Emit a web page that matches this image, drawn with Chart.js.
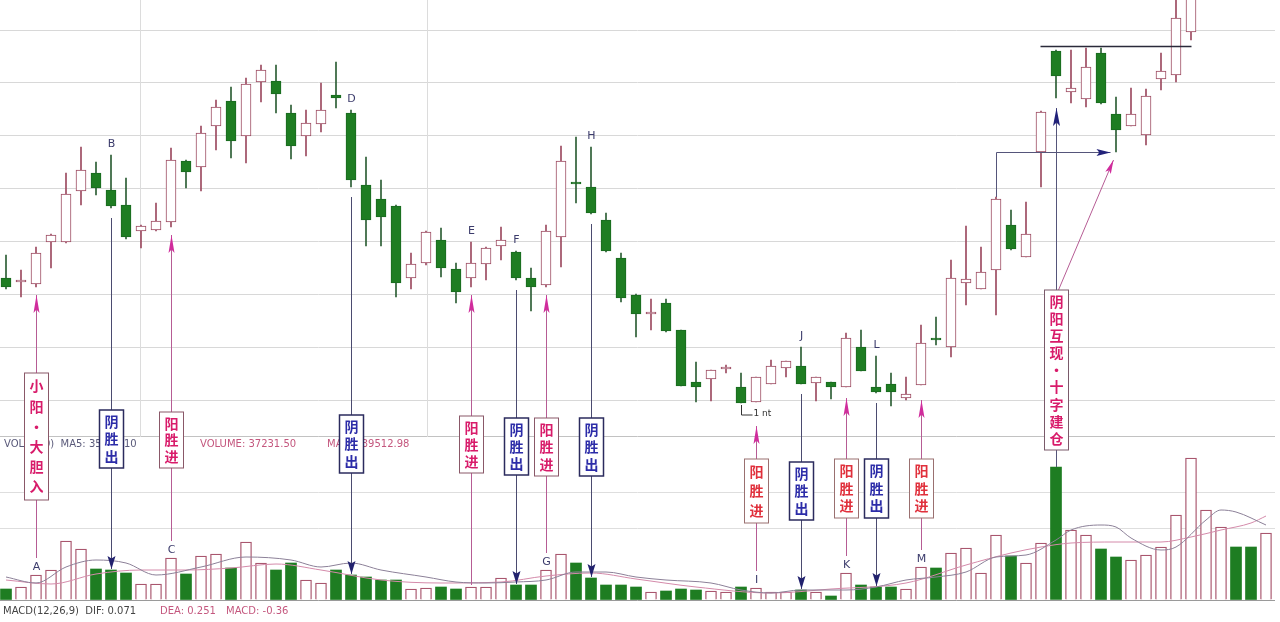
<!DOCTYPE html>
<html>
<head>
<meta charset="utf-8">
<script src="https://cdn.jsdelivr.net/npm/chart.js@4.4.1/dist/chart.umd.min.js"></script>
<style>
  html, body { margin: 0; padding: 0; background: #fff; }
  #wrap { width: 1280px; height: 622px; position: relative; }
</style>
</head>
<body>
<div id="wrap"><canvas id="kline"></canvas></div>
<script>
// daily candles, left to right (prices in yuan)
const opens = [7.22,7.18,7.16,7.58,7.58,8.09,8.27,8.10,7.95,7.69, 7.70,7.78,8.39,8.33,8.74,8.99,8.64,9.18,9.19,8.87,
  8.64,8.76,9.05,8.87,8.15,8.01,7.94,7.22,7.37,7.60, 7.31,7.22,7.36,7.54,7.48,7.22,7.15,7.63,8.18,8.13,
  7.80,7.42,7.05,6.86,6.97,6.70,6.18,6.21,6.31,6.13, 5.98,6.16,6.32,6.34,6.17,6.18,6.13,6.53,6.13,6.16,
  6.02,6.15,6.61,6.53,7.17,7.11,7.30,7.75,7.43,8.48, 9.49,9.08,9.01,9.47,8.86,8.74,8.65,9.21,9.25,9.68,
  10.20,10.45,10.75,10.50,10.30];
const highs = [7.45,7.30,7.53,7.66,8.27,8.53,8.38,8.45,8.22,7.75, 7.97,8.52,8.40,8.74,9.00,9.13,9.22,9.35,9.35,8.95,
  8.90,9.17,9.38,8.90,8.43,8.20,7.95,7.47,7.69,7.72, 7.37,7.58,7.53,7.73,7.49,7.32,7.75,8.54,8.63,8.53,
  7.87,7.47,7.06,7.01,7.01,6.70,6.38,6.30,6.35,6.27, 6.23,6.40,6.39,6.53,6.23,6.18,6.67,6.70,6.44,6.27,
  6.23,6.75,6.83,7.40,7.74,7.53,8.03,7.90,7.98,8.89, 9.50,9.50,9.52,9.52,9.03,9.12,9.11,9.47,10.00,10.25,
  10.60,10.80,10.85,10.60,10.70];
const lows = [7.11,7.03,7.13,7.32,7.57,7.95,8.05,7.92,7.61,7.52, 7.69,7.73,8.12,8.09,8.50,8.42,8.37,8.98,8.87,8.41,
  8.44,8.68,8.92,8.13,7.54,7.54,7.03,7.11,7.35,7.23, 6.97,7.13,7.20,7.40,7.20,6.89,7.13,7.33,7.97,7.86,
  7.48,6.98,6.63,6.70,6.68,6.14,5.98,5.99,6.27,5.97, 5.98,6.16,6.23,6.16,5.99,6.01,6.13,6.29,6.07,5.94,
  6.00,6.15,6.55,6.43,6.95,7.11,6.85,7.50,7.43,8.13, 9.02,8.97,8.93,8.96,8.48,8.74,8.55,9.10,9.18,9.60,
  10.10,10.40,10.40,10.20,10.25];
const closes = [7.13,7.19,7.47,7.65,8.06,8.30,8.12,7.94,7.63,7.74, 7.79,8.40,8.28,8.67,8.93,8.59,9.16,9.30,9.06,8.54,
  8.77,8.90,9.02,8.20,7.80,7.83,7.17,7.36,7.68,7.32, 7.08,7.37,7.52,7.60,7.22,7.13,7.69,8.39,8.16,7.87,
  7.49,7.02,6.86,6.87,6.69,6.14,6.13,6.30,6.32,5.97, 6.23,6.34,6.39,6.16,6.23,6.13,6.62,6.29,6.08,6.08,
  6.06,6.57,6.60,7.22,7.21,7.28,8.01,7.51,7.66,8.88, 9.24,9.12,9.33,8.97,8.70,8.86,9.04,9.29,9.82,10.15,
  10.50,10.70,10.45,10.30,10.62];
// volume (hands)
const volumes = [2750,3250,6250,7500,14750,12750,7750,7500,6750,4000, 4000,10500,6500,11000,11500,8000,14500,9250,7500,9250,
  5000,4250,7500,6250,5750,5000,5000,2750,3000,3250, 2750,3250,3250,5500,3750,3750,7500,11500,9250,5500,
  3750,3750,3250,2000,2250,2750,2500,2250,2000,3250, 3000,2000,2000,2500,2000,1000,6750,3750,3250,3250,
  2750,8250,8000,11750,13000,6750,16250,11000,9250,14250, 33250,17500,16250,12750,10750,10000,11250,13250,21250,35500,
  22500,18250,13250,13250,16750];
// volume moving averages, read at a few days
const ma5Days = [0,2,4,6,8,10,13,16,19,21,23,25,28,30,32,34,36,38,40,42,44,47,49,51,53,56,58,60,62,64,66,68,70,71,73,74,75,77,78,80,81,82,84];
const ma5Vol = [5750,4250,8250,10000,9250,6250,8250,10750,10000,8250,9250,7500,5750,4500,4250,4500,5000,7000,7000,5750,5000,4250,2500,1750,2500,2500,3250,5000,5750,7000,10750,11250,15000,17500,18750,18250,15500,12500,13250,20000,22500,22000,18750];
const ma10Days = [0,3,6,9,12,15,18,21,25,29,33,36,39,42,46,51,55,60,64,67,69,71,74,77,79,81,83,84];
const ma10Vol = [5000,4000,6500,7500,7500,8000,9000,7500,5000,4250,4500,6000,6750,5250,3250,1750,2750,4250,8750,11750,13250,14250,14500,14500,15750,17500,19250,21000];

const priceGrid = [6.0, 6.5286, 7.0571, 7.5857, 8.1143, 8.6429, 9.1714, 9.7];
const volGrid = [0, 18000, 27000, 40750];
const dayGrid = [8.93, 28.07];

// trade signals: day, side, marker, tag text, tag box (px, top/bottom)
const signals = [
  { i: 2,  side: 'buy',  label: 'A', text: '小阳·大胆入', box: [373, 500], at: 'vol' },
  { i: 7,  side: 'sell', label: 'B', text: '阴胜出', box: [410, 468], at: 'top' },
  { i: 11, side: 'buy',  label: 'C', text: '阳胜进', box: [412, 468], at: 'vol' },
  { i: 23, side: 'sell', label: 'D', text: '阴胜出', box: [415, 473], at: 'top' },
  { i: 31, side: 'buy',  label: 'E', text: '阳胜进', box: [416, 473], at: 'top' },
  { i: 34, side: 'sell', label: 'F', text: '阴胜出', box: [418, 475], at: 'top' },
  { i: 36, side: 'buy',  label: 'G', text: '阳胜进', box: [418, 476], at: 'vol' },
  { i: 39, side: 'sell', label: 'H', text: '阴胜出', box: [418, 476], at: 'top' },
  { i: 50, side: 'buy',  label: 'I', text: '阳胜进', box: [459, 523], at: 'vol', gap: 24, red: true },
  { i: 53, side: 'sell', label: 'J', text: '阴胜出', box: [462, 520], at: 'top' },
  { i: 56, side: 'buy',  label: 'K', text: '阳胜进', box: [459, 518], at: 'vol', gap: 11, red: true },
  { i: 58, side: 'sell', label: 'L', text: '阴胜出', box: [459, 518], at: 'top' },
  { i: 61, side: 'buy',  label: 'M', text: '阳胜进', box: [459, 518], at: 'vol', gap: 15, red: true },
];
const bigTag = { i: 70, text: '阴阳互现·十字建仓', box: [290, 450] };

const UP = '#9c4a60', DOWN = '#1e7d22', DOWN_EDGE = '#1a6a20';
const isUp = i => closes[i] >= opens[i];
const days = opens.map((_, i) => i);

function arrowTip(ctx, fx, fy, tx, ty, len, half, color) {
  const a = Math.atan2(ty - fy, tx - fx);
  ctx.save();
  ctx.translate(tx, ty);
  ctx.rotate(a);
  ctx.beginPath();
  ctx.moveTo(0, 0);
  ctx.lineTo(-len, -half);
  ctx.lineTo(-len * 0.8, 0);
  ctx.lineTo(-len, half);
  ctx.closePath();
  ctx.fillStyle = color;
  ctx.fill();
  ctx.restore();
}

function seg(ctx, x0, y0, x1, y1, color, w) {
  ctx.beginPath();
  ctx.moveTo(x0, y0);
  ctx.lineTo(x1, y1);
  ctx.strokeStyle = color;
  ctx.lineWidth = w || 1;
  ctx.stroke();
}

function tagBox(ctx, cx, top, bottom, text, color, edge, lw) {
  ctx.fillStyle = '#fff';
  ctx.fillRect(cx - 12, top, 24, bottom - top);
  ctx.strokeStyle = edge;
  ctx.lineWidth = lw;
  ctx.strokeRect(cx - 12, top, 24, bottom - top);
  const chars = [...text];
  const step = (bottom - top - 6) / chars.length;
  ctx.fillStyle = color;
  ctx.font = 'bold 14px "Noto Sans CJK SC"';
  ctx.textAlign = 'center';
  ctx.textBaseline = 'middle';
  chars.forEach((c, k) => ctx.fillText(c, cx, top + 3 + step * (k + 0.5)));
}

const panelText = {
  id: 'panelText',
  beforeDatasetsDraw(chart) {
    const { ctx } = chart;
    const x = chart.scales.x;
    ctx.save();
    dayGrid.forEach(d => seg(ctx, Math.round(x.getPixelForValue(d)) + 0.5, 0, Math.round(x.getPixelForValue(d)) + 0.5, 437, '#dcdcdc'));
    ctx.font = '10px "DejaVu Sans"';
    ctx.textBaseline = 'middle';
    ctx.textAlign = 'left';
    ctx.fillStyle = '#5a5a7a';
    ctx.fillText('VOL(5,10)  MA5: 35831.10', 4, 444);
    ctx.fillStyle = '#c4577e';
    ctx.fillText('VOLUME: 37231.50', 200, 444);
    ctx.fillText('MA10: 39512.98', 327, 444);
    ctx.fillStyle = '#444';
    ctx.fillText('MACD(12,26,9)  DIF: 0.071', 3, 611);
    ctx.fillStyle = '#c4577e';
    ctx.fillText('DEA: 0.251', 160, 611);
    ctx.fillText('MACD: -0.36', 226, 611);
    ctx.restore();
  }
};

const signalMarks = {
  id: 'signalMarks',
  afterDatasetsDraw(chart) {
    const { ctx } = chart;
    const x = chart.scales.x, y = chart.scales.y, yv = chart.scales.yv;
    const px = i => Math.round(x.getPixelForValue(i)) + 0.5;
    const py = v => y.getPixelForValue(v);
    const pv = v => yv.getPixelForValue(v);
    ctx.save();

    signals.forEach(s => {
      const cx = px(s.i);
      const low = py(lows[s.i]);
      const volTop = pv(volumes[s.i]);
      const [bt, bb] = s.box;
      if (s.side === 'buy') {
        const start = low + (s.gap || 8);
        const end = s.at === 'vol' ? volTop - 17 : volTop - 2;
        seg(ctx, cx, start, cx, bt, '#b65c94');
        seg(ctx, cx, bb, cx, end, '#b65c94');
        arrowTip(ctx, cx, start + 20, cx, start, 18, 3, '#d02c9c');
        tagBox(ctx, cx, bt, bb, s.text, s.red ? '#e0303c' : '#d81b6a', s.red ? '#9a7070' : '#8a5868', 1);
      } else {
        const start = low + 10;
        const end = volTop - 1;
        seg(ctx, cx, start, cx, bt, '#4b4b70');
        seg(ctx, cx, bb, cx, end, '#4b4b70');
        arrowTip(ctx, cx, end - 14, cx, end, 13, 4, '#22226e');
        tagBox(ctx, cx, bt, bb, s.text, '#2c2ca8', '#2b2b5e', 1.5);
      }
      ctx.font = '11px "DejaVu Sans"';
      ctx.textAlign = 'center';
      ctx.textBaseline = 'alphabetic';
      ctx.fillStyle = '#3c3c6c';
      const ly = s.at === 'vol' ? volTop - 5 : py(highs[s.i]) - 8;
      ctx.fillText(s.label, cx, ly);
    });

    // small bracket under the bottom candle
    const bx = px(49), by = py(lows[49]);
    seg(ctx, bx, by + 2, bx, by + 12, '#333');
    seg(ctx, bx, by + 12, bx + 11, by + 12, '#333');
    ctx.font = '9px "DejaVu Sans"';
    ctx.textAlign = 'left';
    ctx.textBaseline = 'middle';
    ctx.fillStyle = '#333';
    ctx.fillText('1 nt', bx + 12, by + 11);

    // breakout tag
    const gx = px(bigTag.i);
    const [gt, gb] = bigTag.box;
    const tip = py(lows[bigTag.i]) + 10;
    seg(ctx, gx, gt, gx, tip, '#55557a');
    arrowTip(ctx, gx, tip + 20, gx, tip, 18, 3.5, '#22227a');
    seg(ctx, gx, gb, gx, pv(volumes[bigTag.i]), '#55557a');
    const dx = px(74) - 3, dy = py(lows[74]) + 8;
    seg(ctx, gx + 2, gt, dx, dy, '#b65c94');
    arrowTip(ctx, gx + 2, gt, dx, dy, 14, 3, '#d02c9c');
    tagBox(ctx, gx, gt, gb, bigTag.text, '#d81b6a', '#7a5a6a', 1);

    // support line from the first big up day to the pull-back low
    const sx = px(66), sy = Math.round(py(lows[74])) + 0.5;
    seg(ctx, sx, py(highs[66]), sx, sy, '#55557a');
    seg(ctx, sx, sy, px(74) - 6, sy, '#55557a');
    arrowTip(ctx, sx, sy, px(74) - 6, sy, 14, 3.5, '#22227a');
    // resistance line across the consolidation
    const ry = Math.round(py(9.54)) + 0.5;
    seg(ctx, px(69) - 1, ry, px(79), ry, '#2a2a3a', 1.5);

    ctx.restore();
  }
};

new Chart(document.getElementById('kline'), {
  type: 'bar',
  data: {
    datasets: [
      {
        label: 'body',
        data: days.map(i => ({ x: i, y: [opens[i], closes[i]] })),
        grouped: false,
        barThickness: 10,
        minBarLength: 2,
        borderSkipped: false,
        borderWidth: 1,
        backgroundColor: ctx => isUp(ctx.dataIndex) ? '#ffffff' : DOWN,
        borderColor: ctx => isUp(ctx.dataIndex) ? UP : DOWN_EDGE,
        order: 1,
      },
      {
        label: 'wick',
        data: days.map(i => ({ x: i, y: [lows[i], highs[i]] })),
        grouped: false,
        barThickness: 1,
        borderWidth: 0,
        backgroundColor: ctx => isUp(ctx.dataIndex) ? UP : '#2c5e34',
        order: 2,
      },
      {
        type: 'line',
        label: 'MA5',
        data: ma5Days.map((d, k) => ({ x: d, y: ma5Vol[k] })),
        yAxisID: 'yv',
        borderColor: '#8c8098',
        borderWidth: 1,
        pointRadius: 0,
        cubicInterpolationMode: 'monotone',
        order: 3,
      },
      {
        type: 'line',
        label: 'MA10',
        data: ma10Days.map((d, k) => ({ x: d, y: ma10Vol[k] })),
        yAxisID: 'yv',
        borderColor: '#d48aaa',
        borderWidth: 1,
        pointRadius: 0,
        cubicInterpolationMode: 'monotone',
        order: 3,
      },
      {
        label: 'volume',
        data: days.map(i => ({ x: i, y: volumes[i] })),
        yAxisID: 'yv',
        grouped: false,
        barThickness: 11,
        borderSkipped: 'start',
        borderWidth: ctx => isUp(ctx.dataIndex) ? 1.3 : 0,
        backgroundColor: ctx => isUp(ctx.dataIndex) ? '#ffffff' : DOWN,
        borderColor: '#a9566e',
        order: 4,
      },
    ],
  },
  options: {
    responsive: true,
    maintainAspectRatio: false,
    animation: false,
    events: [],
    layout: { padding: { left: 0, right: 5, top: 0, bottom: 22 } },
    plugins: { legend: { display: false }, tooltip: { enabled: false } },
    scales: {
      x: { type: 'linear', min: -0.4, max: 84.6, offset: false, display: false },
      y: {
        min: 4, max: 10,
        ticks: { display: false },
        border: { display: false },
        grid: { drawTicks: false, color: '#d8d8d8' },
        afterBuildTicks: s => { s.ticks = priceGrid.map(v => ({ value: v })); },
      },
      yv: {
        position: 'right',
        min: 0, max: 150000,
        ticks: { display: false },
        border: { display: false },
        grid: {
          drawTicks: false,
          color: ctx => ctx.tick.value === 0 ? '#9a9a9a' : (ctx.tick.value === 40750 ? '#c2c2c2' : '#dedede'),
        },
        afterBuildTicks: s => { s.ticks = volGrid.map(v => ({ value: v })); },
      },
    },
  },
  plugins: [panelText, signalMarks],
});
</script>
</body>
</html>
